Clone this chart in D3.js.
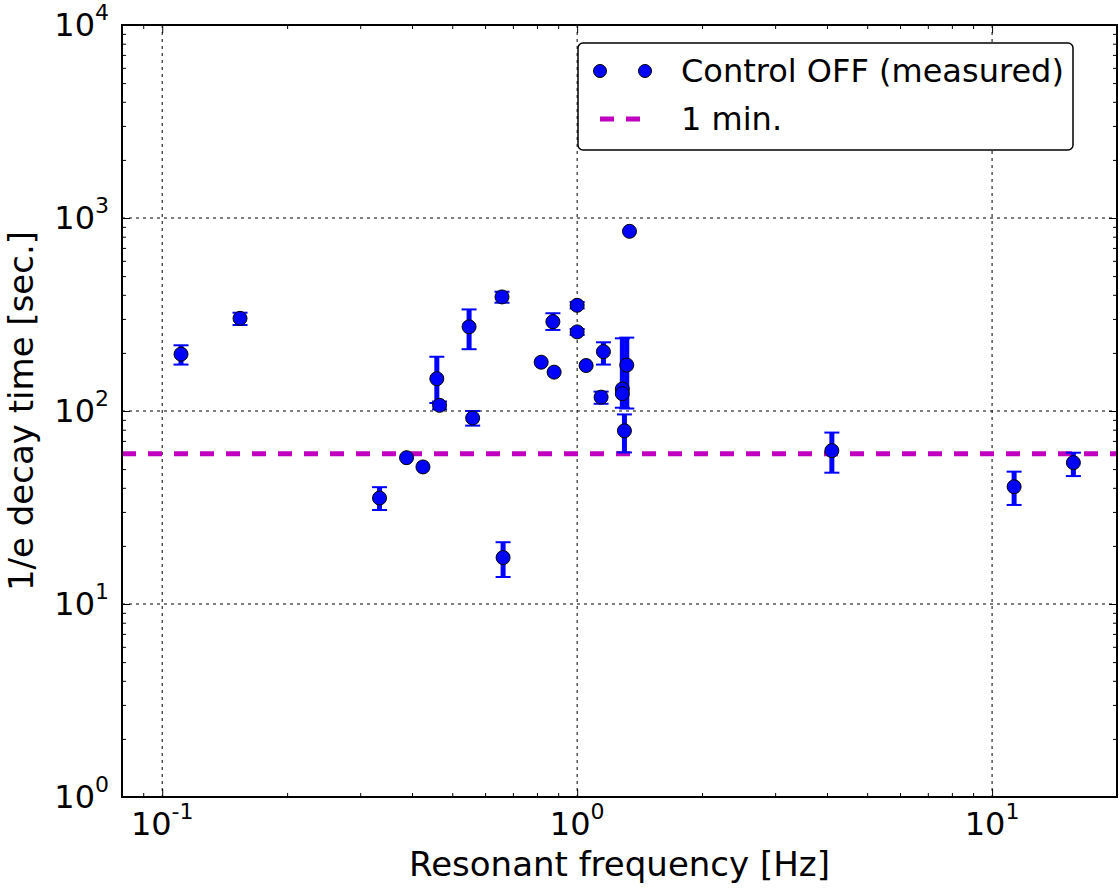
<!DOCTYPE html>
<html>
<head>
<meta charset="utf-8">
<script src="https://cdnjs.cloudflare.com/ajax/libs/d3/7.8.5/d3.min.js"></script>
<style>
  body { margin: 0; background: #fff; }
  text { font-family: "DejaVu Sans", sans-serif; fill: #000; }
</style>
</head>
<body>
<script>
// measured points: frequency [Hz], decay time [s], error bar low / high
var freq  = [0.111, 0.154, 0.459, 0.466, 0.549, 0.560, 0.659, 0.874, 1.0, 1.0,
             1.337, 0.819, 0.880, 1.051, 1.157, 1.142, 1.317, 1.285, 1.285, 1.30,
             0.334, 0.388, 0.425, 0.663, 11.3, 15.7, 4.11];
var tau   = [197, 302, 147, 107, 273, 92, 390, 290, 353, 257,
             853, 179, 159, 172, 203, 118, 173, 130, 123, 79,
             35.4, 57.3, 51.3, 17.4, 40.5, 54, 62.3];
var tauLo = [174, 279, 110, 102, 209, 84, 364, 263, 340, 248,
             853, 179, 159, 172, 174, 109, 103, 130, 104, 61,
             30.7, 57.3, 51.3, 13.8, 32.6, 46, 47.9];
var tauHi = [219, 323, 191, 112, 336, 100, 415, 321, 367, 266,
             853, 179, 159, 172, 227, 126, 240, 130, 238, 96,
             40.3, 57.3, 51.3, 20.9, 48.5, 60.8, 77.3];
var oneMin = 60;

var xMajor = [0.1, 1, 10];
var xMajorExp = ["-1", "0", "1"];
var xMinor = [0.09, 0.2, 0.3, 0.4, 0.5, 0.6, 0.7, 0.8, 0.9, 2, 3, 4, 5, 6, 7, 8, 9];
var yMajor = [1, 10, 100, 1000, 10000];
var yMajorExp = ["0", "1", "2", "3", "4"];
var yMinor = [];
[1, 10, 100, 1000].forEach(function(d) {
    for (var k = 2; k <= 9; k++) yMinor.push(d * k);
});

var width = 1120, height = 890;
var pL = 122, pR = 1117, pT = 25, pB = 797;

var svg = d3.select("body").append("svg")
    .attr("width", width)
    .attr("height", height);

var x = d3.scaleLog().domain([0.08, 20]).range([pL, pR]);
var y = d3.scaleLog().domain([1, 10000]).range([pB, pT]);

//grid lines at major ticks
svg.append("g").selectAll("line").data(xMajor).enter().append("line")
    .attr("x1", function(d) { return x(d); })
    .attr("x2", function(d) { return x(d); })
    .attr("y1", pT).attr("y2", pB)
    .attr("stroke", "#000").attr("stroke-width", 1)
    .attr("stroke-dasharray", "3,4");
svg.append("g").selectAll("line").data(yMajor).enter().append("line")
    .attr("y1", function(d) { return y(d); })
    .attr("y2", function(d) { return y(d); })
    .attr("x1", pL).attr("x2", pR)
    .attr("stroke", "#000").attr("stroke-width", 1)
    .attr("stroke-dasharray", "3,4");

//ticks on all four sides, pointing inward
function ticks(axis, tr) {
    var g = svg.append("g").attr("transform", tr).call(axis);
    g.select(".domain").remove();
    g.selectAll("text").remove();
    g.selectAll("line").attr("stroke", "#000").attr("stroke-width", 1);
}
ticks(d3.axisBottom(x).tickValues(xMajor).tickSize(-8), "translate(0," + pB + ")");
ticks(d3.axisBottom(x).tickValues(xMinor).tickSize(-4), "translate(0," + pB + ")");
ticks(d3.axisTop(x).tickValues(xMajor).tickSize(-8), "translate(0," + pT + ")");
ticks(d3.axisTop(x).tickValues(xMinor).tickSize(-4), "translate(0," + pT + ")");
ticks(d3.axisLeft(y).tickValues(yMajor).tickSize(-8), "translate(" + pL + ",0)");
ticks(d3.axisLeft(y).tickValues(yMinor).tickSize(-4), "translate(" + pL + ",0)");
ticks(d3.axisRight(y).tickValues(yMajor).tickSize(-8), "translate(" + pR + ",0)");
ticks(d3.axisRight(y).tickValues(yMinor).tickSize(-4), "translate(" + pR + ",0)");

//tick labels 10^n
var xl = svg.append("g").selectAll("text").data(xMajor).enter().append("text")
    .attr("x", function(d) { return x(d); })
    .attr("y", pB + 38)
    .attr("text-anchor", "middle")
    .style("font-size", "32px");
xl.append("tspan").text("10");
xl.append("tspan").attr("dy", -16).style("font-size", "22px")
    .text(function(d, i) { return xMajorExp[i]; });

var yl = svg.append("g").selectAll("text").data(yMajor).enter().append("text")
    .attr("x", pL - 13)
    .attr("y", function(d) { return y(d) + 11; })
    .attr("text-anchor", "end")
    .style("font-size", "32px");
yl.append("tspan").text("10");
yl.append("tspan").attr("dy", -16).style("font-size", "22px")
    .text(function(d, i) { return yMajorExp[i]; });

//axis titles
svg.append("text")
    .attr("x", (pL + pR) / 2)
    .attr("y", 876)
    .attr("text-anchor", "middle")
    .style("font-size", "34px")
    .text("Resonant frequency [Hz]");
svg.append("text")
    .attr("transform", "translate(33," + (pT + pB) / 2 + ") rotate(-90)")
    .attr("text-anchor", "middle")
    .style("font-size", "34px")
    .text("1/e decay time [sec.]");

//1 minute line
svg.append("line")
    .attr("x1", pL).attr("x2", pR)
    .attr("y1", y(oneMin)).attr("y2", y(oneMin))
    .attr("stroke", "#bf00bf").attr("stroke-width", 5)
    .attr("stroke-dasharray", "14,12");

var idx = d3.range(freq.length);

//error bars
var eb = svg.append("g").selectAll("g").data(idx.filter(function(i) {
        return tauHi[i] > tauLo[i];
    })).enter().append("g");
eb.append("line")
    .attr("x1", function(i) { return x(freq[i]); })
    .attr("x2", function(i) { return x(freq[i]); })
    .attr("y1", function(i) { return y(tauLo[i]); })
    .attr("y2", function(i) { return y(tauHi[i]); })
    .attr("stroke", "#0000ff").attr("stroke-width", 5);
eb.append("line")
    .attr("x1", function(i) { return x(freq[i]) - 7.5; })
    .attr("x2", function(i) { return x(freq[i]) + 7.5; })
    .attr("y1", function(i) { return y(tauLo[i]); })
    .attr("y2", function(i) { return y(tauLo[i]); })
    .attr("stroke", "#0000ff").attr("stroke-width", 2);
eb.append("line")
    .attr("x1", function(i) { return x(freq[i]) - 7.5; })
    .attr("x2", function(i) { return x(freq[i]) + 7.5; })
    .attr("y1", function(i) { return y(tauHi[i]); })
    .attr("y2", function(i) { return y(tauHi[i]); })
    .attr("stroke", "#0000ff").attr("stroke-width", 2);

//points
svg.append("g").selectAll("circle").data(idx).enter().append("circle")
    .attr("cx", function(i) { return x(freq[i]); })
    .attr("cy", function(i) { return y(tau[i]); })
    .attr("r", 7)
    .attr("fill", "#0000ff")
    .attr("stroke", "#000").attr("stroke-width", 1);

//frame
svg.append("rect")
    .attr("x", pL).attr("y", pT)
    .attr("width", pR - pL).attr("height", pB - pT)
    .attr("fill", "none").attr("stroke", "#000").attr("stroke-width", 2);

//legend
var lg = svg.append("g");
lg.append("rect")
    .attr("x", 578).attr("y", 43).attr("width", 495).attr("height", 107)
    .attr("rx", 5)
    .attr("fill", "#fff").attr("stroke", "#000").attr("stroke-width", 1.5);
lg.selectAll("circle").data([600, 645]).enter().append("circle")
    .attr("cx", function(d) { return d; }).attr("cy", 71)
    .attr("r", 6.5)
    .attr("fill", "#0000ff").attr("stroke", "#000").attr("stroke-width", 1);
lg.append("line")
    .attr("x1", 600).attr("x2", 640).attr("y1", 119).attr("y2", 119)
    .attr("stroke", "#bf00bf").attr("stroke-width", 5)
    .attr("stroke-dasharray", "14,12");
lg.append("text").attr("x", 681).attr("y", 82)
    .style("font-size", "32px").text("Control OFF (measured)");
lg.append("text").attr("x", 681).attr("y", 130)
    .style("font-size", "32px").text("1 min.");
</script>
</body>
</html>
